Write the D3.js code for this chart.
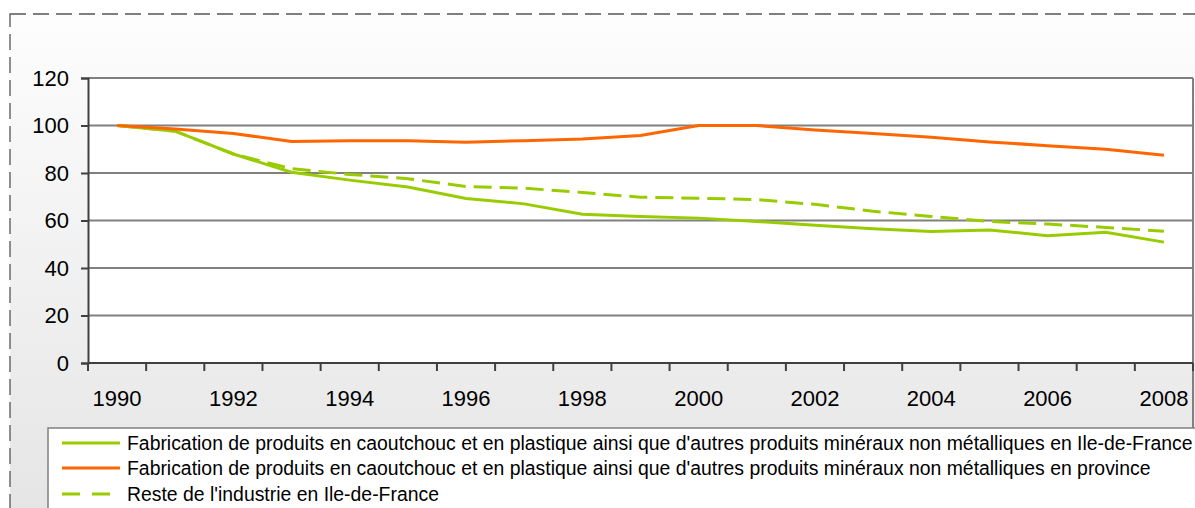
<!DOCTYPE html>
<html>
<head>
<meta charset="utf-8">
<script src="https://cdn.jsdelivr.net/npm/d3@7/dist/d3.min.js"></script>
<style>
  html, body { margin: 0; padding: 0; background: #ffffff; }
  svg { display: block; font-family: "Liberation Sans", Arial, sans-serif; }
</style>
</head>
<body>
<svg id="chart" width="1195" height="508"></svg>
<script>
const years = [1990,1991,1992,1993,1994,1995,1996,1997,1998,1999,2000,2001,2002,2003,2004,2005,2006,2007,2008];
const tickYears = [1990,1992,1994,1996,1998,2000,2002,2004,2006,2008];
const yTicks = [0,20,40,60,80,100,120];
const idfValues = [100,97.6,88,80.3,77,74.1,69.3,67,62.6,61.7,61,59.6,58,56.5,55.4,56,53.6,55,50.9];
const provinceValues = [100,98.5,96.6,93.3,93.6,93.6,93,93.6,94.3,95.8,100,100,98.1,96.6,95.1,93.1,91.5,90,87.5];
const resteValues = [100,97.6,88,81.8,79.4,77.6,74.3,73.6,71.8,69.8,69.4,68.8,66.8,63.9,61.7,59.6,58.5,57.1,55.5];
const seriesNames = [
  "Fabrication de produits en caoutchouc et en plastique ainsi que d'autres produits minéraux non métalliques en Ile-de-France",
  "Fabrication de produits en caoutchouc et en plastique ainsi que d'autres produits minéraux non métalliques en province",
  "Reste de l'industrie en Ile-de-France"
];
const seriesColors = ["#99cc00", "#ff6600", "#99cc00"];
const seriesDash = [null, null, "18,8"];
const seriesValues = [idfValues, provinceValues, resteValues];

(function () {
const svg = d3.select("#chart");

const defs = svg.append("defs");
const grad = defs.append("linearGradient").attr("id", "bg").attr("x1", 0).attr("y1", 0).attr("x2", 0).attr("y2", 1);
grad.append("stop").attr("offset", "0%").attr("stop-color", "#fdfdfd");
grad.append("stop").attr("offset", "100%").attr("stop-color", "#e4e4e4");

svg.append("rect").attr("x", 10).attr("y", 14).attr("width", 1200).attr("height", 520)
  .attr("fill", "url(#bg)").attr("stroke", "#555").attr("stroke-width", 1.3)
  .attr("stroke-dasharray", "16,7");

const pLeft = 88, pRight = 1193, pTop = 78, pBottom = 363;
const x = d3.scaleBand().domain(years).range([pLeft, pRight]).padding(0);
const y = d3.scaleLinear().domain([0, 120]).range([pBottom, pTop]);

svg.append("rect").attr("x", pLeft).attr("y", pTop).attr("width", pRight - pLeft).attr("height", pBottom - pTop)
  .attr("fill", "#ffffff");

svg.append("g").selectAll("line").data(yTicks.filter(d => d > 0)).join("line")
  .attr("x1", pLeft).attr("x2", pRight)
  .attr("y1", d => y(d)).attr("y2", d => y(d))
  .attr("stroke", "#808080").attr("stroke-width", 2);

svg.append("line").attr("x1", pRight).attr("x2", pRight).attr("y1", pTop).attr("y2", 428)
  .attr("stroke", "#808080").attr("stroke-width", 2);

const yAxis = d3.axisLeft(y).tickValues(yTicks).tickSize(7).tickPadding(12);
const gy = svg.append("g").attr("transform", `translate(${pLeft},0)`).call(yAxis);
gy.select(".domain").attr("stroke", "#404040").attr("stroke-width", 2);
gy.selectAll(".tick line").attr("stroke", "#404040").attr("stroke-width", 2);
gy.selectAll(".tick text").attr("font-size", 22).attr("fill", "#000")
  .attr("font-family", "Liberation Sans, Arial, sans-serif");

svg.append("line").attr("x1", pLeft).attr("x2", pRight).attr("y1", pBottom).attr("y2", pBottom)
  .attr("stroke", "#404040").attr("stroke-width", 2);
const boundaries = years.map(d => x(d)).concat([pRight]);
svg.append("g").selectAll("line").data(boundaries).join("line")
  .attr("x1", d => d).attr("x2", d => d).attr("y1", pBottom).attr("y2", pBottom + 8)
  .attr("stroke", "#404040").attr("stroke-width", 2);
svg.append("g").selectAll("text").data(tickYears).join("text")
  .attr("x", d => x(d) + x.bandwidth() / 2).attr("y", 406)
  .attr("text-anchor", "middle").attr("font-size", 22).attr("fill", "#000")
  .text(d => d);

const line = d3.line().x((d, i) => x(years[i]) + x.bandwidth() / 2).y(d => y(d));
[0, 2, 1].forEach(k => {
  svg.append("path").datum(seriesValues[k])
    .attr("d", line).attr("fill", "none")
    .attr("stroke", seriesColors[k]).attr("stroke-width", 3)
    .attr("stroke-dasharray", seriesDash[k]);
});

svg.append("rect").attr("x", 48).attr("y", 428).attr("width", 1200).attr("height", 100)
  .attr("fill", "#ffffff").attr("stroke", "#808080").attr("stroke-width", 1.5);
const legendY = [443, 468, 494];
seriesNames.forEach((name, i) => {
  svg.append("line").attr("x1", 62).attr("x2", 120).attr("y1", legendY[i]).attr("y2", legendY[i])
    .attr("stroke", seriesColors[i]).attr("stroke-width", 3)
    .attr("stroke-dasharray", seriesDash[i] ? "18,12" : null);
  svg.append("text").attr("x", 127).attr("y", legendY[i] + 6.5)
    .attr("font-size", 19.4).attr("fill", "#000").text(name);
});
})();
</script>
</body>
</html>
